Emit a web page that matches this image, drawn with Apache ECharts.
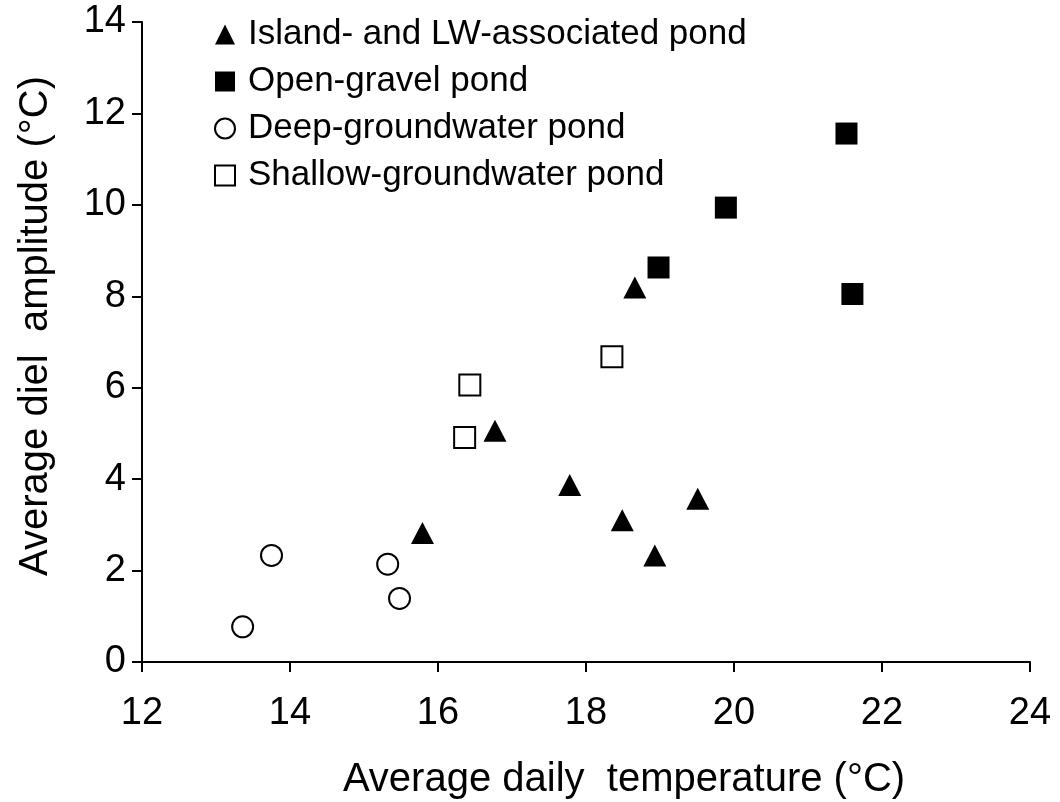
<!DOCTYPE html>
<html>
<head>
<meta charset="utf-8">
<script src="https://cdn.jsdelivr.net/npm/echarts@6/dist/echarts.min.js"></script>
<style>
  html, body { margin: 0; padding: 0; background: #fff; }
  #chart { width: 1060px; height: 802px; }
</style>
</head>
<body>
<div id="chart"></div>
<script>
// average daily temperature (°C) / average diel amplitude (°C)
const islandTemp = [15.79, 16.77, 17.78, 18.66, 18.49, 18.93, 19.51];
const islandAmp = [2.82, 5.06, 3.87, 8.19, 3.10, 2.33, 3.57];

const gravelTemp = [18.98, 19.89, 21.52, 21.60];
const gravelAmp = [8.63, 9.94, 11.56, 8.05];

const deepTemp = [13.36, 13.75, 15.32, 15.48];
const deepAmp = [0.77, 2.33, 2.14, 1.39];

const shallowTemp = [16.43, 16.36, 18.35];
const shallowAmp = [6.06, 4.91, 6.68];

const seriesNames = [
    'Island- and LW-associated pond',
    'Open-gravel pond',
    'Deep-groundwater pond',
    'Shallow-groundwater pond'
];

const zip = (xs, ys) => xs.map((x, i) => [x, ys[i]]);

const font = "'Liberation Sans', Arial, sans-serif";
const black = '#000';

let myChart = echarts.init(document.getElementById('chart'));

let option = {
    backgroundColor: '#fff',
    animation: false,
    textStyle: { fontFamily: font },
    grid: {
        left: 142,
        right: 30,
        top: 22,
        bottom: 140,
        containLabel: false,
        outerBoundsMode: 'none'
    },
    legend: {
        orient: 'vertical',
        left: 209,
        top: 12,
        itemWidth: 20,
        itemHeight: 20,
        itemGap: 12,
        itemStyle: { borderWidth: 2 },
        textStyle: { fontSize: 35, color: black, fontFamily: font, padding: [0, 0, 0, 8] },
        data: seriesNames
    },
    xAxis: {
        type: 'value',
        min: 12,
        max: 24,
        interval: 2,
        name: 'Average daily  temperature (°C)',
        nameLocation: 'middle',
        nameGap: 98,
        nameTextStyle: { fontSize: 40, color: black, fontFamily: font, padding: [0, 0, 0, 76] },
        axisLine: { show: true, onZero: false, lineStyle: { color: black, width: 2 } },
        axisTick: { show: true, inside: false, length: 10, lineStyle: { color: black, width: 2 } },
        axisLabel: { fontSize: 38, color: black, margin: 33, fontFamily: font },
        splitLine: { show: false }
    },
    yAxis: {
        type: 'value',
        min: 0,
        max: 14,
        interval: 2,
        name: 'Average diel  amplitude (°C)',
        nameLocation: 'middle',
        nameGap: 86,
        nameTextStyle: { fontSize: 40, color: black, fontFamily: font, padding: [0, 0, 0, 32] },
        axisLine: { show: true, lineStyle: { color: black, width: 2 } },
        axisTick: { show: true, inside: false, length: 10, lineStyle: { color: black, width: 2 } },
        axisLabel: { fontSize: 38, color: black, margin: 16, fontFamily: font },
        splitLine: { show: false }
    },
    series: [
        {
            name: seriesNames[0],
            type: 'scatter',
            symbol: 'triangle',
            symbolSize: [23, 22],
            itemStyle: { color: black, opacity: 1 },
            data: zip(islandTemp, islandAmp)
        },
        {
            name: seriesNames[1],
            type: 'scatter',
            symbol: 'rect',
            symbolSize: 22,
            itemStyle: { color: black, opacity: 1 },
            data: zip(gravelTemp, gravelAmp)
        },
        {
            name: seriesNames[2],
            type: 'scatter',
            symbol: 'circle',
            symbolSize: 21,
            itemStyle: { color: '#fff', borderColor: black, borderWidth: 2, opacity: 1 },
            data: zip(deepTemp, deepAmp)
        },
        {
            name: seriesNames[3],
            type: 'scatter',
            symbol: 'rect',
            symbolSize: 21,
            itemStyle: { color: '#fff', borderColor: black, borderWidth: 2, opacity: 1 },
            data: zip(shallowTemp, shallowAmp)
        }
    ]
};

myChart.setOption(option);
</script>
</body>
</html>
